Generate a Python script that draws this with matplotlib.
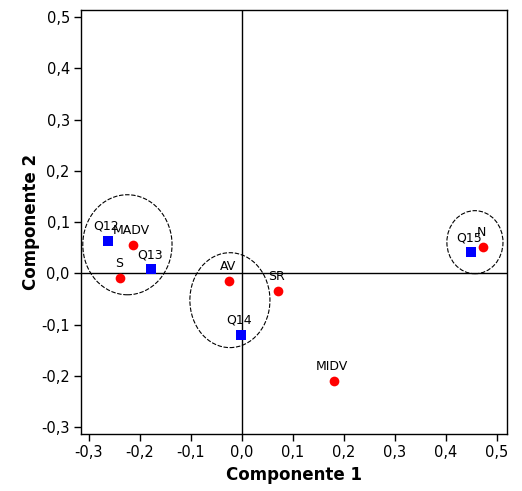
import matplotlib
matplotlib.use("Agg")
import matplotlib.pyplot as plt
from matplotlib.patches import Ellipse

plt.rcParams['axes.unicode_minus'] = False

# Variables (red circles)
var_labels = ["MADV", "S", "AV", "SR", "MIDV", "N"]
var_x = [-0.214, -0.239, -0.025, 0.071, 0.180, 0.473]
var_y = [0.056, -0.008, -0.014, -0.035, -0.210, 0.051]

# Questions (blue squares)
q_labels = ["Q12", "Q13", "Q14", "Q15"]
q_x = [-0.263, -0.178, -0.002, 0.449]
q_y = [0.064, 0.008, -0.119, 0.041]

# Group ellipses: center x, center y, width, height
ell_cx = [-0.2245, -0.0235, 0.457]
ell_cy = [0.056, -0.052, 0.061]
ell_w = [0.175, 0.157, 0.110]
ell_h = [0.195, 0.185, 0.123]

xticks = [-0.3, -0.2, -0.1, 0.0, 0.1, 0.2, 0.3, 0.4, 0.5]
yticks = [-0.3, -0.2, -0.1, 0.0, 0.1, 0.2, 0.3, 0.4, 0.5]

def fmt(v):
    return f"{v:.1f}".replace(".", ",")

fig = plt.figure(figsize=(5.22, 4.91), dpi=100)
ax = fig.add_axes([0.155, 0.116, 0.816, 0.864])

ax.axhline(0, color="black", lw=1.0, zorder=1)
ax.axvline(0, color="black", lw=1.0, zorder=1)

for cx, cy, w, h in zip(ell_cx, ell_cy, ell_w, ell_h):
    e = Ellipse((cx, cy), w, h, fill=False, edgecolor="black", lw=0.8,
                linestyle=(0, (4, 1.5)), zorder=2)
    ax.add_patch(e)

ax.plot(var_x, var_y, "o", color="#ff0000", markersize=7, markeredgewidth=0, zorder=3)
ax.plot(q_x, q_y, "s", color="#0000ff", markersize=7.5, markeredgewidth=0, zorder=3)

for lab, x, y in zip(var_labels + q_labels, var_x + q_x, var_y + q_y):
    ax.annotate(lab, (x, y), xytext=(-1, 10.5), textcoords="offset points",
                ha="center", va="center", fontsize=9, zorder=4)

ax.set_xlim(-0.3157, 0.5196)
ax.set_ylim(-0.313, 0.514)
ax.set_xticks(xticks)
ax.set_xticklabels([fmt(v) for v in xticks])
ax.set_yticks(yticks)
ax.set_yticklabels([fmt(v) for v in yticks])
ax.tick_params(direction="out", length=5, width=1, labelsize=10.5, pad=3)
for s in ax.spines.values():
    s.set_linewidth(1.0)

ax.set_xlabel("Componente 1", fontsize=12, fontweight="bold", labelpad=4)
ax.set_ylabel("Componente 2", fontsize=12, fontweight="bold", labelpad=1)

fig.savefig("out.png", dpi=100)
